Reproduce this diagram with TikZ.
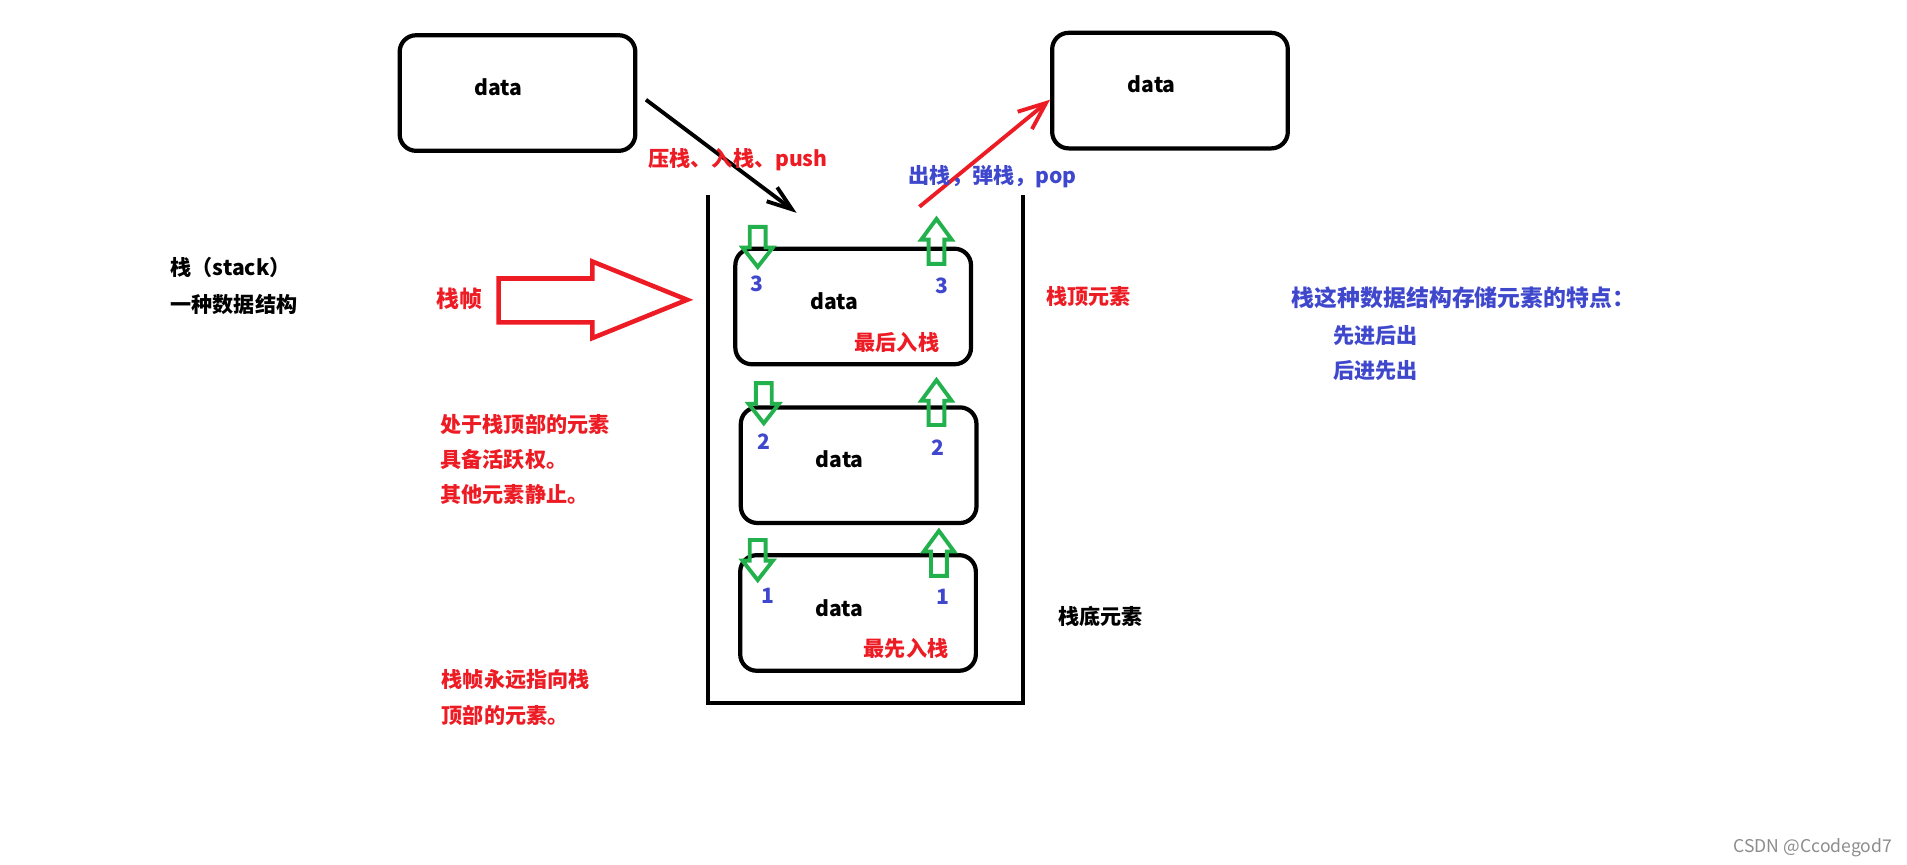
\documentclass[tikz,border=0pt]{standalone}
\usepackage{fontspec}
\setmainfont{Noto Sans CJK SC}
\usetikzlibrary{arrows.meta}

\definecolor{paintred}{RGB}{237,28,36}
\definecolor{paintblue}{RGB}{63,72,204}
\definecolor{paintgreen}{RGB}{34,177,76}

\tikzset{
	databox/.style={draw, line width=2.4pt, rounded corners=0.33cm, minimum width=4.71cm, minimum height=2.31cm, inner sep=0pt},
	datatxt/.style={font=\bfseries\fontsize{12}{14}\selectfont, inner sep=0pt},
	numtxt/.style={text=paintblue, font=\bfseries\fontsize{12}{14}\selectfont, inner sep=0pt},
	redtxt/.style={text=paintred, font=\bfseries\fontsize{12}{20}\selectfont, inner sep=0pt, anchor=west, align=left},
	bluetxt/.style={text=paintblue, font=\bfseries\fontsize{12}{20}\selectfont, inner sep=0pt, anchor=west, align=left},
	blacktxt/.style={font=\bfseries\fontsize{12}{21}\selectfont, inner sep=0pt, anchor=west, align=left},
	greenmark/.style={draw=paintgreen, line width=2.2pt, line join=miter},
	pushmark/.pic={\draw[greenmark] (0,0) -- (-12.5,-16) -- (-6.5,-16) -- (-6.5,-33) -- (6.5,-33) -- (6.5,-16) -- (12.5,-16) -- cycle;},
	popmark/.pic={\draw[greenmark] (0,0) -- (-12.5,17) -- (-6.5,17) -- (-6.5,37) -- (6.5,37) -- (6.5,17) -- (12.5,17) -- cycle;}
}

\begin{document}
\begin{tikzpicture}[x=0.0243cm, y=-0.0243cm]
			\useasboundingbox (0,0) rectangle (1568,711);
			
			\node[databox] (inbox) at (425.5,76.5) {};
			\node[datatxt] (indata) at (410,72) {data};
			\node[databox] (outbox) at (962,74.5) {};
			\node[datatxt] (outdata) at (947,69) {data};
			
			\draw[line width=2.3pt] (582,160) -- (582,578) -- (841,578) -- (841,160);
			
			\node[databox] (box3) at (701.5,252) {};
			\node[databox] (box2) at (706,382.5) {};
			\node[databox] (box1) at (705.5,504) {};
			
			\node[datatxt] (data3) at (686,247.5) {data};
			\node[datatxt] (data2) at (690.5,377.5) {data};
			\node[datatxt] (data1) at (690,500) {data};
			
			\node[numtxt] (in3) at (622.5,233.5) {3};
			\node[numtxt] (out3) at (774.5,235) {3};
			\node[numtxt] (in2) at (628,363.5) {2};
			\node[numtxt] (out2) at (771,368.5) {2};
			\node[numtxt] (in1) at (631.5,490) {1};
			\node[numtxt] (out1) at (775,491) {1};
			
			\node[redtxt, anchor=center] (lastin) at (737.5,282) {最后入栈};
			\node[redtxt, anchor=center] (firstin) at (745,533) {最先入栈};
			
			\pic at (623,219.5) {pushmark};
			\pic at (628,348) {pushmark};
			\pic at (623,477) {pushmark};
			\pic at (770,180) {popmark};
			\pic at (770,312.5) {popmark};
			\pic at (772,436.5) {popmark};
			
			\coordinate (pushend) at (655,175);
			\coordinate (popstart) at (756,170);
			\draw[line width=2.2pt, -{Straight Barb[length=0.5cm, width=0.35cm]}] ([shift={(7,5.5)}]inbox.east) -- (pushend);
			\draw[paintred, line width=2.2pt, -{Straight Barb[length=0.55cm, width=0.45cm]}] (popstart) -- ([shift={(0,7.5)}]outbox.west);
			
			\node[redtxt] (pushtxt) at (533,131) {压栈、入栈、push};
			\node[bluetxt] (poptxt) at (747,145) {出栈，弹栈，pop};
			
			\draw[paintred, line width=2.6pt, line join=miter] (410,229) -- (487,229) -- (487,215) -- (565,246.5) -- (487,278) -- (487,265) -- (410,265) -- cycle;
			\node[redtxt, anchor=center, font=\bfseries\fontsize{13}{15}\selectfont] (frametxt) at (378,246) {栈帧};
			
			\node[blacktxt] (stacktitle) at (140,235) {栈（stack）\\一种数据结构};
			\node[redtxt] (toptxt) at (860,244) {栈顶元素};
			\node[blacktxt] (bottomtxt) at (870,507) {栈底元素};
			
			\node[bluetxt, font=\bfseries\fontsize{13}{15}\selectfont] (feature) at (1062,245) {栈这种数据结构存储元素的特点：};
			\node[bluetxt] (lifo) at (1096,276) {先进后出};
			\node[bluetxt] (filo) at (1096,305) {后进先出};
			
			\node[redtxt] (active) at (362,377.5) {处于栈顶部的元素\\具备活跃权。\\其他元素静止。};
			\node[redtxt] (pointer) at (363,573.5) {栈帧永远指向栈\\顶部的元素。};
			
			\node[anchor=east, inner sep=0pt, text=black!45, font=\fontsize{10}{12}\selectfont] (mark) at (1556,697) {CSDN @Ccodegod7};
			
		\end{tikzpicture}
\end{document}
